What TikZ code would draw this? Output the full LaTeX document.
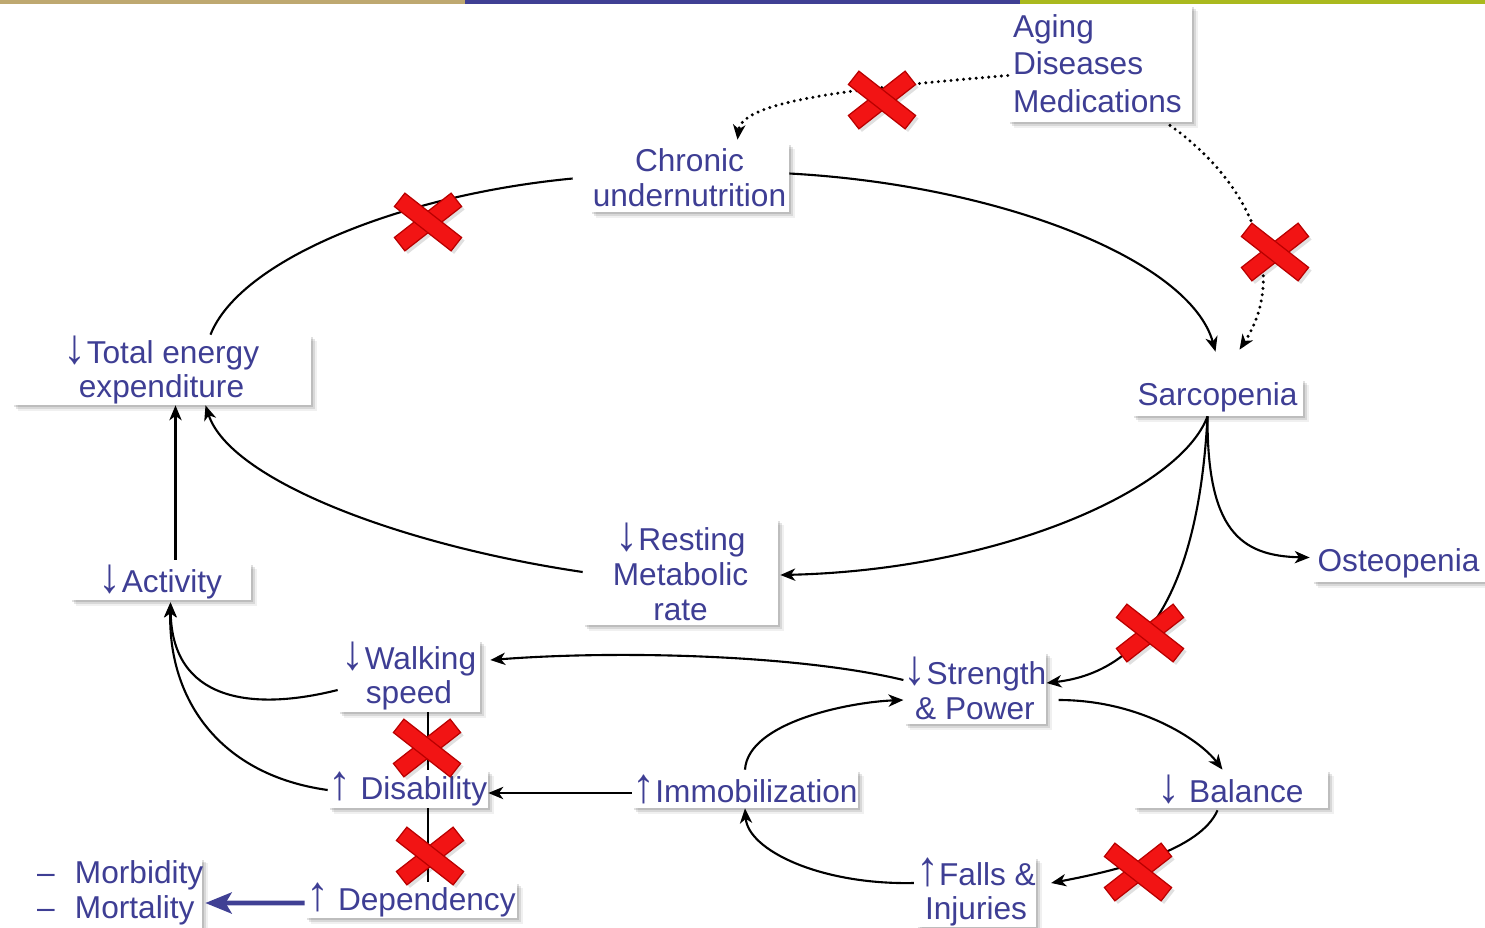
\documentclass[tikz,border=0pt]{standalone}
\usepackage{fontspec}
\setmainfont{Liberation Sans}
\usetikzlibrary{arrows.meta,shadows,calc}
\definecolor{txt}{RGB}{62,62,148}
\definecolor{bartan}{RGB}{190,168,112}
\definecolor{barblue}{RGB}{64,64,148}
\definecolor{barolive}{RGB}{170,185,30}
\definecolor{xred}{RGB}{242,20,20}
\definecolor{xdark}{RGB}{185,0,0}
\newcommand\dn{\scalebox{1.45}[1.55]{↓}}
\newcommand\up{\scalebox{1.45}[1.55]{↑}}
\newcommand\RedX[1]{%
  \begin{scope}[shift={#1}]
    \fill[black,opacity=0.12,shift={(3,3)},rotate=38] (-36,-8.5) rectangle (36,8.5);
    \fill[black,opacity=0.12,shift={(3,3)},rotate=-38] (-36,-8.5) rectangle (36,8.5);
    \filldraw[draw=xdark,fill=xred,line width=0.7pt,rotate=38] (-36,-8.5) rectangle (36,8.5);
    \filldraw[draw=xdark,fill=xred,line width=0.7pt,rotate=-38] (-36,-8.5) rectangle (36,8.5);
    \fill[xred,rotate=38] (-6,-7.8) rectangle (6,7.8);
  \end{scope}}
\begin{document}
\begin{tikzpicture}[x=0.02cm,y=-0.02cm,
  box/.style={fill=white, inner sep=0pt, text=txt, align=center,
    font=\fontsize{18}{19.8}\selectfont,
    drop shadow={shadow xshift=1.2pt, shadow yshift=-1.2pt, fill=black, opacity=0.12},
    drop shadow={shadow xshift=2.4pt, shadow yshift=-2.4pt, fill=black, opacity=0.1},
    drop shadow={shadow xshift=3.4pt, shadow yshift=-3.4pt, fill=black, opacity=0.06}},
  con/.style={line width=1.2pt, black},
  arr/.style={con, -{Stealth[length=8.5pt,width=7pt,inset=2.5pt]}},
  dots/.style={line width=1.9pt, black, dash pattern=on 0pt off 3.6pt, line cap=round,
    -{Stealth[length=8.5pt,width=7pt,inset=2.5pt]}},
  blu/.style={line width=2.6pt, barblue, -{Stealth[length=15pt,width=12pt,inset=3.5pt]}}]
\useasboundingbox (0,0) rectangle (1485,927);
\fill[bartan] (0,0) rectangle (465,4);
\fill[barblue] (465,0) rectangle (1020,4);
\fill[barolive] (1020,0) rectangle (1485,4);

\node[box, minimum width=3.68cm, minimum height=2.34cm, text width=3.48cm, align=left,
  inner xsep=0.1cm, font=\fontsize{18}{21.5}\selectfont] (aging) at (1100,63.5) {Aging\\Diseases\\Medications};
\node[box, minimum width=3.98cm, minimum height=1.38cm] (chronic) at (689.5,177.5) {Chronic\\undernutrition};
\node[box, minimum width=5.98cm, minimum height=1.4cm] (tee) at (161.5,370) {\dn Total energy\\expenditure};
\node[box, minimum width=3.42cm, minimum height=0.74cm] (sarc) at (1217.5,397.5) {Sarcopenia};
\node[box, minimum width=3.46cm, minimum height=0.74cm] (osteo) at (1398.5,563.5) {Osteopenia};
\node[box, minimum width=3.9cm, minimum height=2.12cm] (rmr) at (680.5,572) {\dn Resting\\Metabolic\\rate};
\node[box, minimum width=3.62cm, minimum height=0.74cm] (act) at (160.5,581.5) {\dn Activity};
\node[box, minimum width=2.84cm, minimum height=1.44cm] (walk) at (409,676) {\dn Walking\\speed};
\node[box, minimum width=2.8cm, minimum height=1.44cm] (str) at (975,688) {\dn Strength\\\& Power};
\node[box, minimum width=3.2cm, minimum height=0.76cm] (dis) at (408,789) {\up{} Disability};
\node[box, minimum width=4.52cm, minimum height=0.76cm] (imm) at (745,789) {\up Immobilization};
\node[box, minimum width=3.9cm, minimum height=0.76cm] (bal) at (1230.5,789) {\dn{} Balance};
\node[box, minimum width=2.36cm, minimum height=1.4cm] (falls) at (976,892) {\up Falls \&\\Injuries};
\node[box, minimum width=4.24cm, minimum height=0.72cm] (dep) at (411,900) {\up{} Dependency};
\node[box, minimum width=3.34cm, minimum height=1.4cm, text width=3.26cm, align=left,
  inner xsep=0.04cm] (morb) at (118.5,892.5) {\makebox[0.76cm][l]{–}Morbidity\\\makebox[0.76cm][l]{–}Mortality};

% connectors
\draw[arr] ($(chronic.east)+(0,-4)$) .. controls (1000,185) and (1190,260) .. ($(sarc.north)+(-2,-27)$);
\draw[dots] ($(aging.south)+(70,3)$) .. controls (1260,190) and (1285,280) .. ($(sarc.north)+(22,-29)$);
\draw[dots] ($(aging.west)+(0,12)$) .. controls (860,88) and (742,100) .. ($(chronic.north)+(48,-3)$);
\draw[con] ($(chronic.west)+(-17,1)$) .. controls (400,195) and (240,260) .. ($(tee.north)+(49,0)$);
\draw[arr] ($(sarc.south)+(-10,0)$) .. controls (1180,490) and (1000,570) .. ($(rmr.east)+(2,3)$);
\draw[arr] (rmr.west) .. controls (400,545) and (230,480) .. ($(tee.south)+(44,0)$);
\draw[arr] ($(act.north)+(15,-3)$) -- ($(tee.south)+(14,0)$);
\draw[arr] ($(walk.west)+(0,14)$) .. controls (250,712) and (172,700) .. ($(act.south)+(10,2)$);
\draw[arr] ($(dis.west)+(0,1)$) .. controls (220,775) and (168,700) .. ($(act.south)+(10,2)$);
\draw[arr] ($(sarc.south)+(-10,0)$) .. controls (1200,560) and (1160,670) .. ($(str.east)+(0,-5)$);
\draw[arr] ($(sarc.south)+(-10,0)$) .. controls (1207,530) and (1240,556) .. ($(osteo.west)+(-2,-6)$);
\draw[arr] ($(str.west)+(0,-8)$) .. controls (800,655) and (620,650) .. ($(walk.east)+(10,-16)$);
\draw[arr] (imm.north) .. controls (748,722) and (850,702) .. ($(str.west)+(0,12)$);
\draw[arr] ($(str.east)+(12,12)$) .. controls (1140,700) and (1200,740) .. ($(bal.north)+(-8,0)$);
\draw[arr] ($(bal.south)+(-13,2)$) .. controls (1200,850) and (1120,870) .. ($(falls.east)+(15,-9)$);
\draw[arr] ($(falls.west)+(-2,-9)$) .. controls (820,885) and (748,850) .. (imm.south);
\draw[arr] ($(imm.west)+(0,4)$) -- ($(dis.east)+(0,4)$);
\draw[con] ($(walk.south)+(19,0)$) -- ($(dis.north)+(20,0)$);
\draw[con] ($(dis.south)+(20,0)$) -- ($(dep.north)+(17,0)$);
\draw[blu] ($(dep.west)+(0,3)$) -- ($(morb.east)+(3,10.5)$);

% red crosses
\RedX{(882,100)}
\RedX{(1275,252)}
\RedX{(428,222)}
\RedX{(1150,633)}
\RedX{(427,748)}
\RedX{(430,856)}
\RedX{(1138,872)}
\end{tikzpicture}
\end{document}
